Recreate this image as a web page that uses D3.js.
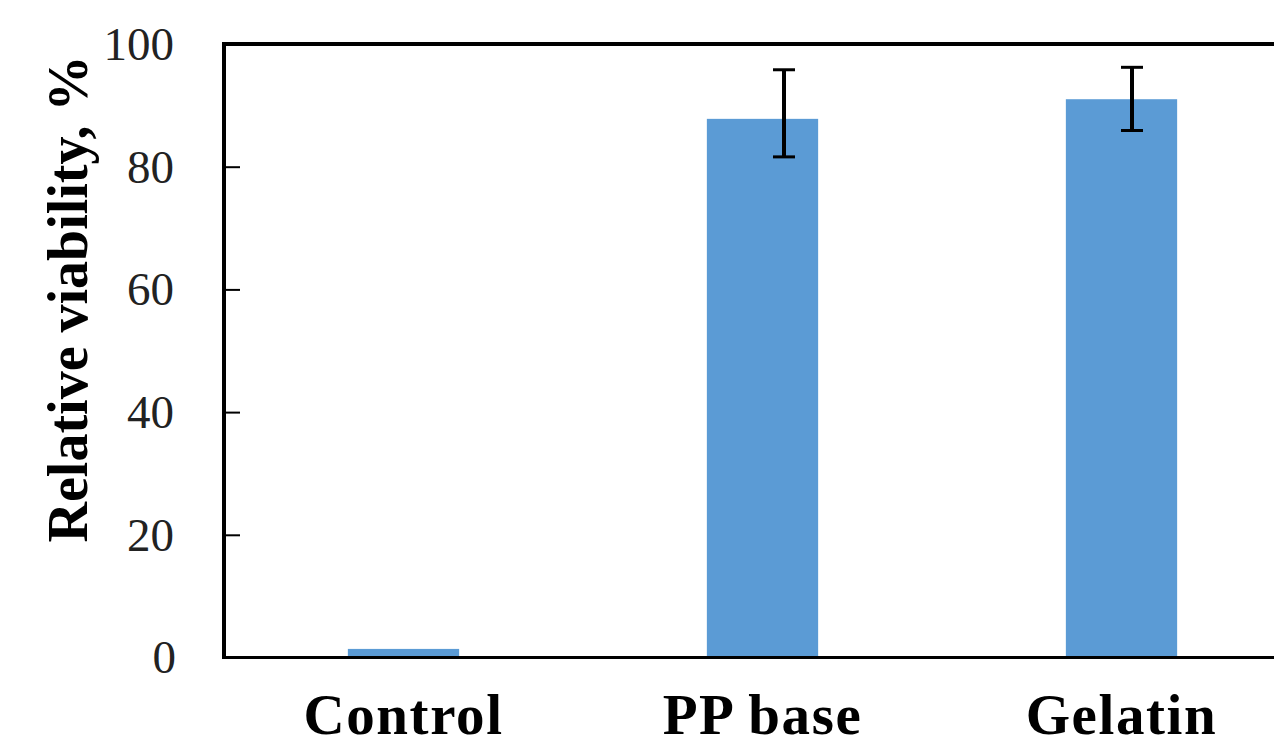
<!DOCTYPE html>
<html>
<head>
<meta charset="utf-8">
<script src="https://cdn.jsdelivr.net/npm/d3@7"></script>
<style>
  html, body { margin: 0; padding: 0; background: #fff; overflow: hidden; }
  svg { display: block; }
</style>
</head>
<body>
<svg id="chart" width="1274" height="743"></svg>
<script>
// ---- data ----
const categories = ["Control", "PP base", "Gelatin"];
const viability = [1.4, 87.8, 91.0];
const errLow = [null, 81.6, 85.9];
const errHigh = [null, 95.8, 96.2];
const yTicks = [0, 20, 40, 60, 80, 100];
const yLabel = "Relative viability, %";

// ---- layout ----
const W = 1274, H = 743;
const plotLeft = 224, plotRight = 1301, plotTop = 44, plotBottom = 657.5;
const svg = d3.select("#chart");

const x = d3.scaleBand().domain(categories).range([plotLeft, plotRight]).paddingInner(0.69).paddingOuter(0.345);
const xErr = d3.scalePoint().domain(categories).range([plotLeft + 212, plotLeft + 908]);
const y = d3.scaleLinear().domain([0, 100]).range([plotBottom, plotTop]);

const data = categories.map((c, i) => ({ c, v: viability[i], lo: errLow[i], hi: errHigh[i] }));

// bars
svg.append("g").selectAll("rect").data(data).join("rect")
  .attr("x", d => x(d.c))
  .attr("width", x.bandwidth())
  .attr("y", d => y(d.v))
  .attr("height", d => y(0) - y(d.v))
  .attr("fill", "#5B9BD5");

// error bars
const eg = svg.append("g").attr("stroke", "#000");
const ed = data.filter(d => d.lo != null);
eg.selectAll("line.v").data(ed).join("line").attr("class", "v")
  .attr("x1", d => xErr(d.c)).attr("x2", d => xErr(d.c))
  .attr("y1", d => y(d.hi)).attr("y2", d => y(d.lo))
  .attr("stroke-width", 4);
eg.selectAll("line.t").data(ed).join("line").attr("class", "t")
  .attr("x1", d => xErr(d.c) - 11).attr("x2", d => xErr(d.c) + 11)
  .attr("y1", d => y(d.hi)).attr("y2", d => y(d.hi))
  .attr("stroke-width", 3);
eg.selectAll("line.b").data(ed).join("line").attr("class", "b")
  .attr("x1", d => xErr(d.c) - 11).attr("x2", d => xErr(d.c) + 11)
  .attr("y1", d => y(d.lo)).attr("y2", d => y(d.lo))
  .attr("stroke-width", 3);

// frame: left axis, top border, bottom axis
svg.append("line").attr("x1", plotLeft).attr("x2", plotLeft).attr("y1", plotTop - 2).attr("y2", plotBottom + 1.5)
  .attr("stroke", "#000").attr("stroke-width", 4);
svg.append("line").attr("x1", plotLeft - 2).attr("x2", W + 10).attr("y1", plotTop).attr("y2", plotTop)
  .attr("stroke", "#000").attr("stroke-width", 4);
svg.append("line").attr("x1", plotLeft - 2).attr("x2", W + 10).attr("y1", plotBottom).attr("y2", plotBottom)
  .attr("stroke", "#000").attr("stroke-width", 3);

// y axis ticks (inward) and labels
const yAxis = d3.axisRight(y).tickValues(yTicks).tickSize(14).tickFormat("");
const yg = svg.append("g").attr("transform", `translate(${plotLeft + 2},0)`).call(yAxis);
yg.select(".domain").remove();
yg.selectAll(".tick line").attr("stroke", "#000").attr("stroke-width", 2)
  .filter(d => d === 0 || d === 100).remove();

svg.append("g").selectAll("text").data(yTicks).join("text")
  .attr("x", d => d === 0 ? 176 : 174)
  .attr("y", d => y(d))
  .attr("dy", "0.34em")
  .attr("text-anchor", "end")
  .attr("font-family", "'Liberation Serif', 'Times New Roman', serif")
  .attr("font-size", 47)
  .attr("fill", "#222")
  .text(d => d);

// y axis title
svg.append("text")
  .attr("transform", `translate(87, 299) rotate(-90)`)
  .attr("text-anchor", "middle")
  .attr("font-family", "'Liberation Serif', 'Times New Roman', serif")
  .attr("font-weight", "bold")
  .attr("font-size", 56)
  .attr("fill", "#000")
  .text(yLabel);

// category labels
svg.append("g").selectAll("text").data(categories).join("text")
  .attr("x", d => x(d) + x.bandwidth() / 2)
  .attr("y", 734)
  .attr("text-anchor", "middle")
  .attr("font-family", "'Liberation Serif', 'Times New Roman', serif")
  .attr("font-weight", "bold")
  .attr("font-size", 57)
  .attr("letter-spacing", 1.6)
  .attr("fill", "#000")
  .text(d => d);
</script>
</body>
</html>
